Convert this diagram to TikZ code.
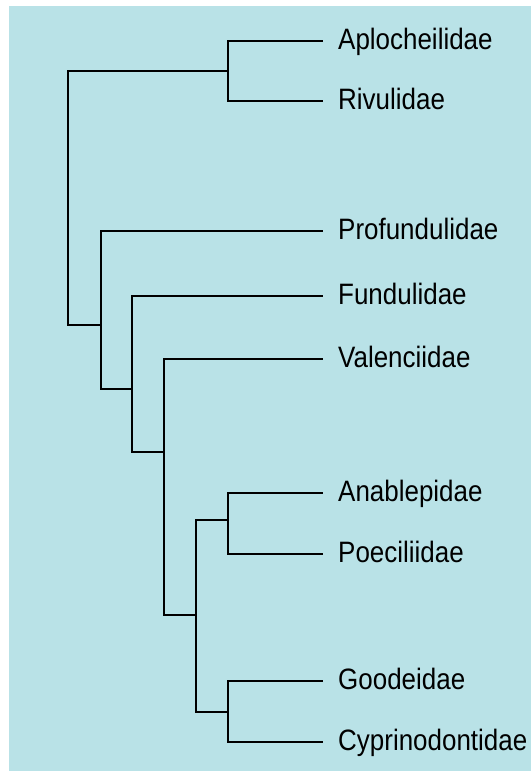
\documentclass[tikz,border=0pt]{standalone}
\usepackage{fontspec}
\usepackage{xcolor}
\usepackage{tikz}
\usetikzlibrary{positioning,calc}
\newfontfamily\cladefont[FakeStretch=0.88]{Liberation Sans}
\definecolor{panel}{HTML}{B9E2E7}
\definecolor{ink}{HTML}{000000}
\tikzset{
    branch/.style={line width=2.2pt, draw=ink},
    taxon/.style={anchor=west, inner xsep=15pt, inner ysep=0pt, text height=21pt, text depth=5pt, font=\cladefont\fontsize{29.5}{31}\selectfont, text=ink}
}
\begin{document}
\begin{tikzpicture}[x=1pt, y=-1pt]

\useasboundingbox (0,0) rectangle (531,772);
\fill[panel] (9,6) rectangle (531,771);

% taxa
\node[taxon] (apl) at (323,41) {Aplocheilidae};
\node[taxon] (riv) at (323,101) {Rivulidae};
\node[taxon] (pro) at (323,231) {Profundulidae};
\node[taxon] (fun) at (323,296) {Fundulidae};
\node[taxon] (val) at (323,359) {Valenciidae};
\node[taxon] (ana) at (323,493) {Anablepidae};
\node[taxon] (poe) at (323,554) {Poeciliidae};
\node[taxon] (goo) at (323,681) {Goodeidae};
\node[taxon] (cyp) at (323,742) {Cyprinodontidae};

% internal nodes
\coordinate (root) at (68,198);
\coordinate (n1) at (228,71);
\coordinate (n2) at (101,325);
\coordinate (n3) at (132,389);
\coordinate (n4) at (164,452);
\coordinate (n5) at (196,615);
\coordinate (n6) at (228,520);
\coordinate (n7) at (228,712);

\draw[branch] (root) |- (n1);
\draw[branch] (root) |- (n2);
\draw[branch] (n1) |- (apl.west);
\draw[branch] (n1) |- (riv.west);
\draw[branch] (n2) |- (pro.west);
\draw[branch] (n2) |- (n3);
\draw[branch] (n3) |- (fun.west);
\draw[branch] (n3) |- (n4);
\draw[branch] (n4) |- (val.west);
\draw[branch] (n4) |- (n5);
\draw[branch] (n5) |- (n6);
\draw[branch] (n5) |- (n7);
\draw[branch] (n6) |- (ana.west);
\draw[branch] (n6) |- (poe.west);
\draw[branch] (n7) |- (goo.west);
\draw[branch] (n7) |- (cyp.west);

\end{tikzpicture}
\end{document}
